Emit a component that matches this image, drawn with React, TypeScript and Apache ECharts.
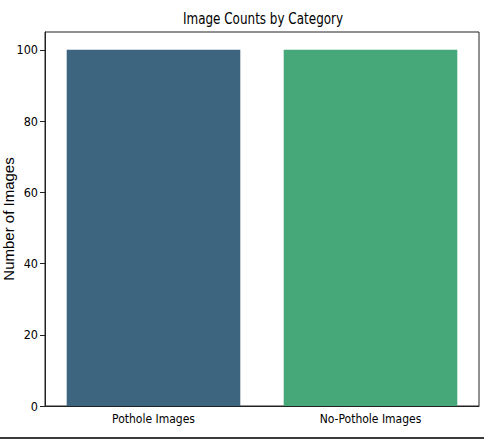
import React, { useEffect, useRef } from 'react';
import * as echarts from 'echarts';

const categories: string[] = ['Pothole Images', 'No-Pothole Images'];
const imageCounts: number[] = [100, 100];
const yTickValues: number[] = [0, 20, 40, 60, 80, 100];
const chartTitle = 'Image Counts by Category';

const palette = ['#3e6580', '#46a878'];
const condensed = "'DejaVu Sans Condensed', 'DejaVu Sans', sans-serif";

const App: React.FC = () => {
  const chartRef = useRef<HTMLDivElement>(null);

  useEffect(() => {
    document.body.style.margin = '0';
    if (!chartRef.current) return;
    const chart = echarts.init(chartRef.current, undefined, { renderer: 'svg' });

    chart.setOption({
      animation: false,
      backgroundColor: '#fff',
      grid: {
        left: 45,
        right: 5,
        top: 32,
        bottom: 34,
        containLabel: false,
        outerBoundsMode: 'none',
        show: true,
        borderColor: '#222',
        borderWidth: 1,
        backgroundColor: 'transparent',
      },
      xAxis: {
        type: 'category',
        data: categories,
        axisLine: { lineStyle: { color: '#222', width: 1 } },
        axisTick: { alignWithLabel: true, length: 5, lineStyle: { color: '#222' } },
        axisLabel: { margin: 7, fontFamily: condensed, fontSize: 12, color: '#000' },
        splitLine: { show: false },
      },
      yAxis: {
        type: 'value',
        min: 0,
        max: 105,
        name: 'Number of Images',
        nameLocation: 'middle',
        nameGap: 29,
        nameMoveOverlap: false,
        nameTextStyle: { fontFamily: "'Liberation Sans', Arial, sans-serif", fontSize: 15, color: '#000' },
        axisLine: { show: true, lineStyle: { color: '#222', width: 1 } },
        axisTick: { show: true, length: 5, customValues: yTickValues, lineStyle: { color: '#222' } },
        axisLabel: { margin: 7, customValues: yTickValues, fontFamily: condensed, fontSize: 12.5, color: '#000' },
        splitLine: { show: false },
      },
      series: [
        {
          type: 'bar',
          barCategoryGap: '20%',
          data: imageCounts.map((v, i) => ({ value: v, itemStyle: { color: palette[i] } })),
        },
      ],
      graphic: [
        {
          type: 'text',
          x: 263,
          y: 19,
          scaleX: 0.86,
          style: {
            text: chartTitle,
            fontFamily: condensed,
            fontSize: 15.5,
            fill: '#000',
            align: 'center',
            verticalAlign: 'middle',
          },
        },
        {
          type: 'line',
          shape: { x1: 0, y1: 438, x2: 484, y2: 438 },
          style: { stroke: '#3a3a3a', lineWidth: 2 },
        },
      ],
    });

    return () => chart.dispose();
  }, []);

  return <div ref={chartRef} style={{ width: 484, height: 440 }} />;
};

export default App;
